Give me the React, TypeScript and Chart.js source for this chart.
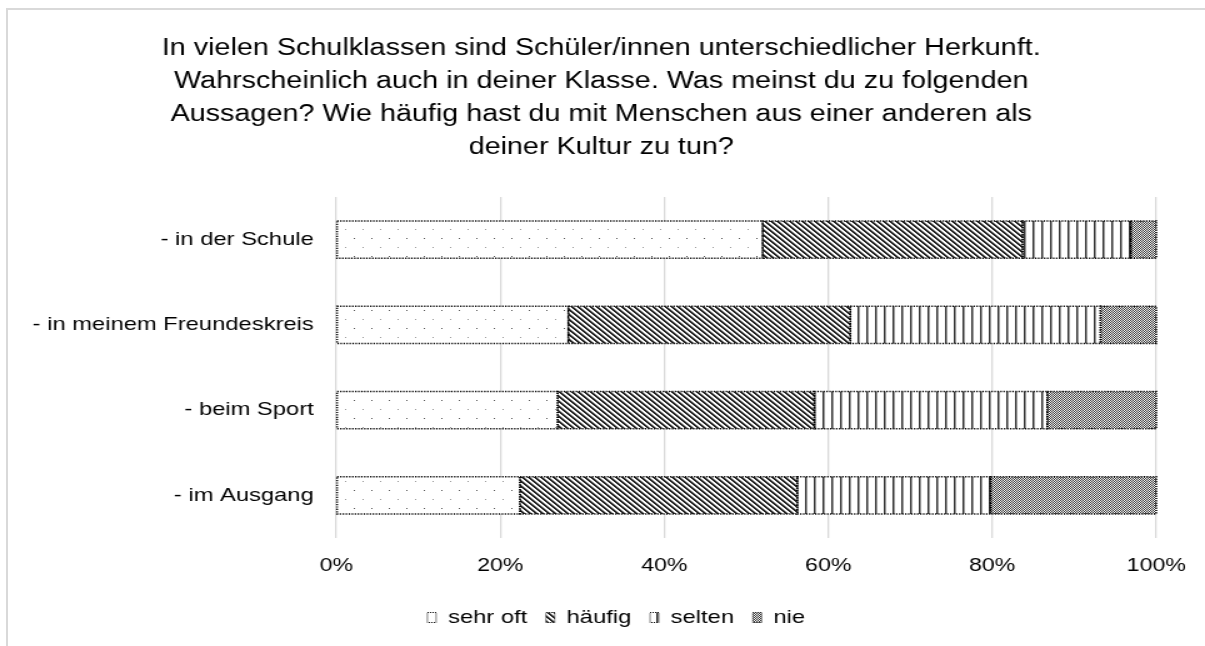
import React, { useEffect, useRef } from 'react';
import { Chart, registerables } from 'chart.js';

Chart.register(...registerables);

const titleLines = [
  'In vielen Schulklassen sind Schüler/innen unterschiedlicher Herkunft.',
  'Wahrscheinlich auch in deiner Klasse. Was meinst du zu folgenden',
  'Aussagen? Wie häufig hast du mit Menschen aus einer anderen als',
  'deiner Kultur zu tun?',
];
const categories = ['- in der Schule', '- in meinem Freundeskreis', '- beim Sport', '- im Ausgang'];
const seriesNames = ['sehr oft', 'häufig', 'selten', 'nie'];
const sehrOft = [52.0, 28.3, 27.0, 22.4];
const haeufig = [31.7, 34.4, 31.3, 33.8];
const selten = [13.2, 30.5, 28.4, 23.6];
const nie = [3.1, 6.8, 13.3, 20.2];
const xTicks = [0, 20, 40, 60, 80, 100];

const FONT = 'Liberation Sans, Arial, Helvetica, sans-serif';
// the reference text is wider than Arial: draw on a narrower canvas and stretch it
const STRETCH = 1.25;
const OUT_W = 1205;
const OUT_H = 646;
const IN_W = Math.round(OUT_W / STRETCH);

function makePattern(w: number, h: number, draw: (g: CanvasRenderingContext2D) => void) {
  const c = document.createElement('canvas');
  c.width = w;
  c.height = h;
  const g = c.getContext('2d') as CanvasRenderingContext2D;
  g.fillStyle = '#ffffff';
  g.fillRect(0, 0, w, h);
  draw(g);
  const ctx = document.createElement('canvas').getContext('2d') as CanvasRenderingContext2D;
  return ctx.createPattern(c, 'repeat') as CanvasPattern;
}

const dottedBorder = {
  id: 'dottedBorder',
  afterDatasetsDraw(chart: any) {
    const ctx = chart.ctx;
    ctx.save();
    ctx.strokeStyle = '#000000';
    ctx.lineWidth = 1.5;
    ctx.setLineDash([1.2, 1.2]);
    chart.data.datasets.forEach((_ds: any, i: number) => {
      const meta = chart.getDatasetMeta(i);
      meta.data.forEach((bar: any) => {
        const p = bar.getProps(['x', 'y', 'base', 'height'], true);
        const left = Math.min(p.x, p.base);
        const w = Math.abs(p.x - p.base);
        ctx.strokeRect(left, p.y - p.height / 2, w, p.height);
      });
    });
    ctx.restore();
  },
};

// legend in the reference sits a little right of the chart centre
const legendShift = {
  id: 'legendShift',
  afterLayout(chart: any) {
    if (chart.legend) {
      chart.legend.left += 12;
      chart.legend.right += 12;
    }
  },
};

export default function App() {
  const ref = useRef<HTMLCanvasElement | null>(null);

  useEffect(() => {
    if (!ref.current) return;
    Chart.defaults.font.family = FONT;

    const pSehrOft = makePattern(14, 18, (g) => {
      g.fillStyle = '#555555';
      g.fillRect(3, 4, 1, 1);
      g.fillStyle = '#999999';
      g.fillRect(10, 13, 1, 1);
    });
    const pHaeufig = makePattern(5, 5, (g) => {
      for (let i = 0; i < 5; i++) {
        g.fillStyle = '#222222';
        g.fillRect(i, i, 1, 1);
        g.fillRect((i + 1) % 5, i, 1, 1);
        g.fillStyle = '#999999';
        g.fillRect((i + 2) % 5, i, 1, 1);
      }
    });
    const pSelten = makePattern(7, 1, (g) => {
      g.fillStyle = '#333333';
      g.fillRect(0, 0, 1, 1);
      g.fillStyle = '#999999';
      g.fillRect(1, 0, 1, 1);
    });
    const pNie = makePattern(2, 2, (g) => {
      g.fillStyle = '#333333';
      g.fillRect(0, 0, 1, 1);
      g.fillRect(1, 1, 1, 1);
    });

    const patterns = [pSehrOft, pHaeufig, pSelten, pNie];
    const values = [sehrOft, haeufig, selten, nie];

    const chart = new Chart(ref.current, {
      type: 'bar',
      data: {
        labels: categories,
        datasets: seriesNames.map((name, i) => ({
          label: name,
          data: values[i],
          backgroundColor: patterns[i],
          borderWidth: 0,
          barPercentage: 0.87,
          categoryPercentage: 0.5,
        })),
      },
      options: {
        indexAxis: 'y',
        responsive: false,
        animation: false,
        layout: { padding: { left: 37, right: 39, top: 0, bottom: 9 } },
        plugins: {
          tooltip: { enabled: false },
          title: {
            display: true,
            text: titleLines,
            color: '#000000',
            font: { family: FONT, size: 23, weight: 'normal', lineHeight: 33 / 23 },
            padding: { top: 32, bottom: 33 },
          },
          legend: {
            position: 'bottom',
            labels: {
              color: '#000000',
              font: { family: FONT, size: 19 },
              boxWidth: 7,
              boxHeight: 10,
              padding: 15,
              generateLabels: (ch: any) =>
                ch.data.datasets.map((ds: any, i: number) => ({
                  text: ds.label,
                  fillStyle: patterns[i],
                  strokeStyle: '#000000',
                  lineWidth: 1,
                  lineDash: [1, 1],
                  hidden: false,
                  datasetIndex: i,
                  fontColor: '#000000',
                })),
            },
          },
        },
        scales: {
          x: {
            stacked: true,
            min: 0,
            max: 100,
            afterFit: (s: any) => {
              s.height = 55;
            },
            afterBuildTicks: (s: any) => {
              s.ticks = xTicks.map((v) => ({ value: v }));
            },
            ticks: {
              color: '#000000',
              font: { family: FONT, size: 18.5, lineHeight: 1.4 },
              padding: 15,
              callback: (v: any) => v + '%',
            },
            grid: { color: '#d9d9d9', lineWidth: 1.3, drawTicks: false },
            border: { display: false },
          },
          y: {
            stacked: true,
            afterFit: (s: any) => {
              s.width = 232;
              // let long category labels extend past the axis box, as in the reference
              s._computeLabelArea = () => undefined;
            },
            ticks: {
              color: '#000000',
              font: { family: FONT, size: 19 },
              padding: 18,
            },
            grid: { display: false, drawTicks: false },
            border: { display: false },
          },
        },
      },
      plugins: [dottedBorder, legendShift],
    } as any);

    return () => chart.destroy();
  }, []);

  return (
    <div
      style={{
        position: 'fixed',
        left: 0,
        top: 0,
        width: OUT_W,
        height: OUT_H,
        overflow: 'hidden',
        background: '#ffffff',
      }}
    >
      <div
        style={{
          position: 'absolute',
          left: 6,
          top: 8,
          width: 1400,
          height: 900,
          borderTop: '2px solid #d9d9d9',
          borderLeft: '2px solid #d9d9d9',
        }}
      />
      <div
        style={{
          position: 'absolute',
          left: 0,
          top: 0,
          width: IN_W,
          height: OUT_H,
          transform: `scaleX(${STRETCH})`,
          transformOrigin: '0 0',
        }}
      >
        <canvas
          ref={ref}
          width={IN_W}
          height={OUT_H}
          style={{ display: 'block', width: IN_W, height: OUT_H }}
        />
      </div>
    </div>
  );
}
